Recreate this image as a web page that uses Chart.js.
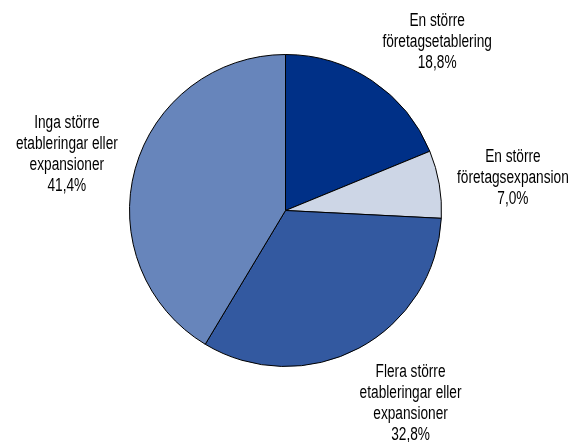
<!DOCTYPE html>
<html>
<head>
<meta charset="utf-8">
<script src="https://cdn.jsdelivr.net/npm/chart.js@4/dist/chart.umd.min.js"></script>
<style>
  html, body { margin: 0; padding: 0; background: #fff; }
</style>
</head>
<body>
<canvas id="pie" width="575" height="442"></canvas>
<script>
const LABELS = [
  ['En större', 'företagsetablering'],
  ['En större', 'företagsexpansion'],
  ['Flera större', 'etableringar eller', 'expansioner'],
  ['Inga större', 'etableringar eller', 'expansioner'],
];
const SHARES = [18.8, 7.0, 32.8, 41.4];
const COLORS = ['#003087', '#cdd6e6', '#3359a0', '#6785bb'];

// no condensed face installed, so squeeze a regular one horizontally
const FONT = '18px "Liberation Sans", Arial, sans-serif';
const SQUEEZE = 0.76;
const LINE_H = 21;

// outside labels, Excel style: box corner touches a point just outside the rim
const outsideLabels = {
  id: 'outsideLabels',
  afterDraw(chart) {
    const ctx = chart.ctx;
    const arcs = chart.getDatasetMeta(0).data;
    ctx.save();
    ctx.font = FONT;
    ctx.fillStyle = '#000';
    ctx.textAlign = 'center';
    ctx.textBaseline = 'middle';
    arcs.forEach((arc, i) => {
      const lines = LABELS[i].concat([SHARES[i].toFixed(1).replace('.', ',') + '%']);
      const mid = (arc.startAngle + arc.endAngle) / 2;
      const dx = Math.cos(mid), dy = Math.sin(mid);
      const R = arc.outerRadius + 18;
      const px = arc.x + dx * R, py = arc.y + dy * R;
      const w = Math.max(...lines.map(l => ctx.measureText(l).width)) * SQUEEZE;
      const h = lines.length * LINE_H;
      const cx = px + Math.max(-1, Math.min(1, dx * 1.8)) * w / 2;
      const cy = py + dy * h / 2 + 2;
      lines.forEach((l, j) => {
        ctx.save();
        ctx.translate(cx, cy - h / 2 + LINE_H * (j + 0.5));
        ctx.scale(SQUEEZE, 1);
        ctx.fillText(l, 0, 0);
        ctx.restore();
      });
    });
    ctx.restore();
  }
};

new Chart(document.getElementById('pie'), {
  type: 'pie',
  data: {
    labels: LABELS.map(l => l.join(' ')),
    datasets: [{
      data: SHARES,
      backgroundColor: COLORS,
      borderColor: '#000',
      borderWidth: 1,
    }],
  },
  options: {
    responsive: false,
    devicePixelRatio: 1,
    animation: false,
    layout: { padding: { left: 129, right: 133, top: 54, bottom: 75 } },
    plugins: {
      legend: { display: false },
      tooltip: { enabled: false },
    },
  },
  plugins: [outsideLabels],
});
</script>
</body>
</html>
